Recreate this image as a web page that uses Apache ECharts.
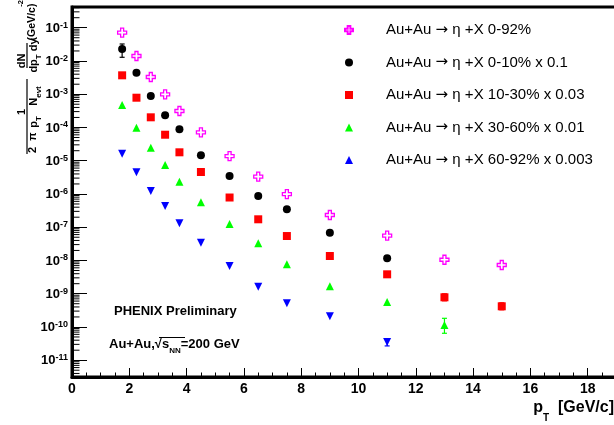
<!DOCTYPE html>
<html>
<head>
<meta charset="utf-8">
<script src="https://cdn.jsdelivr.net/npm/echarts@6/dist/echarts.min.js"></script>
<style>html,body{margin:0;padding:0;background:#fff}#c{width:614px;height:425px}</style>
</head>
<body>
<div id="c"></div>
<script>
// ---- data ----
const ptBins = [1.75, 2.25, 2.75, 3.25, 3.75, 4.5, 5.5, 6.5, 7.5, 9, 11, 13, 15];
const seriesNames = [
  'Au+Au \u2192 \u03b7 +X 0-92%',
  'Au+Au \u2192 \u03b7 +X 0-10% x 0.1',
  'Au+Au \u2192 \u03b7 +X 10-30% x 0.03',
  'Au+Au \u2192 \u03b7 +X 30-60% x 0.01',
  'Au+Au \u2192 \u03b7 +X 60-92% x 0.003'
];
const yield0092 = [7.08e-2, 1.41e-2, 3.29e-3, 9.93e-4, 3.13e-4, 7.14e-5, 1.38e-5, 3.30e-6, 9.95e-7, 2.33e-7, 5.55e-8, 1.05e-8, 7.3e-9];
const yield0010 = [2.29e-2, 4.43e-3, 8.83e-4, 2.32e-4, 8.79e-5, 1.45e-5, 3.47e-6, 8.67e-7, 3.45e-7, 6.84e-8, 1.16e-8];
const yield1030 = [3.70e-3, 7.85e-4, 2.02e-4, 6.05e-5, 1.79e-5, 4.57e-6, 7.82e-7, 1.73e-7, 5.43e-8, 1.36e-8, 3.83e-9, 7.80e-10, 4.18e-10];
const yield3060 = [4.73e-4, 9.82e-5, 2.46e-5, 7.43e-6, 2.33e-6, 5.61e-7, 1.25e-7, 3.28e-8, 7.66e-9, 1.67e-9, 5.62e-10, 1.15e-10];
const yield6092 = [1.63e-5, 4.48e-6, 1.23e-6, 4.34e-7, 1.31e-7, 3.42e-8, 6.81e-9, 1.63e-9, 5.14e-10, 2.09e-10, 3.52e-11];
// visible error bars: [pT, low, high]
const err0010 = [[1.75, 1.29e-2, 3.24e-2]];
const err1030 = [[13, 6.12e-10, 9.93e-10], [15, 3.28e-10, 5.32e-10]];
const err3060 = [[13, 6.46e-11, 1.82e-10]];
const err6092 = [[11, 2.69e-11, 4.36e-11]];
const xTicks = [0, 2, 4, 6, 8, 10, 12, 14, 16, 18, 20];
const yRangeLog = [-11.505, -0.377];
const minorMult = [2, 3, 4, 5, 6, 7, 8, 9];

// ---- build ----
const FONT = 'Liberation Sans, Arial, Helvetica, sans-serif';
const colors = ['#ff00ff', '#000000', '#ff0000', '#00ff00', '#0000ff'];
const L = Math.log10;
function pts(vals) { return vals.map((v, i) => [ptBins[i], L(v)]); }
const crossPath = 'path://M3,0L6,0L6,3L9,3L9,6L6,6L6,9L3,9L3,6L0,6L0,3L3,3Z';

const minorData = [];
for (let d = -13; d <= 0; d++) {
  minorMult.forEach(k => {
    const v = d + L(k);
    if (v > yRangeLog[0] && v < yRangeLog[1]) minorData.push([0, v]);
  });
}

function errSeries(data, color) {
  return {
    type: 'custom', silent: true, z: 1,
    data: data.map(e => [e[0], L(e[1]), L(e[2])]),
    renderItem: function (params, api) {
      const a = api.coord([api.value(0), api.value(2)]);
      const b = api.coord([api.value(0), api.value(1)]);
      const st = { stroke: color, lineWidth: 1.2 };
      return { type: 'group', children: [
        { type: 'line', shape: { x1: a[0], y1: a[1], x2: b[0], y2: b[1] }, style: st },
        { type: 'line', shape: { x1: a[0] - 2.5, y1: a[1], x2: a[0] + 2.5, y2: a[1] }, style: st },
        { type: 'line', shape: { x1: b[0] - 2.5, y1: b[1], x2: b[0] + 2.5, y2: b[1] }, style: st }
      ]};
    }
  };
}

const subRich = {
  m: { font: 'bold 11px ' + FONT, fill: '#000', lineHeight: 12 },
  s: { font: 'bold 8px ' + FONT, fill: '#000', verticalAlign: 'bottom', lineHeight: 8, padding: [0, 0, -3, 0] }
};
function rotText(x, y, text, size) {
  const st = { text: text, align: 'center', verticalAlign: 'middle', fill: '#000' };
  if (text.indexOf('{') >= 0) st.rich = subRich; else st.font = 'bold ' + (size || 11) + 'px ' + FONT;
  return { type: 'text', x: x, y: y, rotation: Math.PI / 2, style: st };
}

const option = {
  animation: false,
  backgroundColor: '#ffffff',
  grid: { left: 72, top: 7, right: -31, bottom: 48, outerBoundsMode: 'none', containLabel: false,
    show: true, borderColor: '#000', borderWidth: 3, backgroundColor: 'transparent' },
  legend: {
    orient: 'vertical', left: 344, top: 22.5, padding: 0,
    itemWidth: 8, itemHeight: 8, itemGap: 17.5,
    data: seriesNames,
    formatter: n => n.replace('\u2192', '{r|\u2192}'),
    textStyle: { fontFamily: FONT, fontSize: 15, color: '#000', lineHeight: 15, padding: [0, 0, 0, 28],
      rich: { r: { fontFamily: 'DejaVu Sans', fontSize: 15, color: '#000', lineHeight: 15 } } }
  },
  xAxis: {
    type: 'value', min: xTicks[0], max: xTicks[xTicks.length - 1], interval: 2,
    name: '{m|p}{s|T}{m|  [GeV/c]}', nameLocation: 'end', nameGap: -31,
    nameTextStyle: { align: 'right', verticalAlign: 'top', padding: [22, 0, 0, 0],
      rich: { m: { fontFamily: FONT, fontSize: 16, fontWeight: 'bold', color: '#000', lineHeight: 18 },
              s: { fontFamily: FONT, fontSize: 10, fontWeight: 'bold', color: '#000', verticalAlign: 'bottom', lineHeight: 12, padding: [0, 0, -6, 0] } } },
    axisLine: { onZero: false, lineStyle: { color: '#000', width: 3 } },
    axisTick: { inside: true, length: 9, lineStyle: { color: '#000', width: 1 } },
    minorTick: { show: true, splitNumber: 4, length: 4.5, lineStyle: { color: '#000', width: 1 } },
    splitLine: { show: false },
    axisLabel: { margin: 5, fontFamily: FONT, fontSize: 14, fontWeight: 'bold', color: '#000',
      formatter: v => (Math.abs(v - Math.round(v)) < 1e-6 ? String(Math.round(v)) : '') }
  },
  yAxis: {
    type: 'value', min: yRangeLog[0], max: yRangeLog[1], minInterval: 1, maxInterval: 1,
    axisLine: { onZero: false, lineStyle: { color: '#000', width: 3 } },
    axisTick: { inside: true, length: 15, lineStyle: { color: '#000', width: 1 } },
    splitLine: { show: false },
    axisLabel: { margin: 4, lineHeight: 16,
      formatter: v => (Math.abs(v - Math.round(v)) < 1e-6 ? '{b|10}{s|' + Math.round(v) + '}' : ''),
      rich: { b: { fontFamily: FONT, fontSize: 13, fontWeight: 'bold', color: '#000', verticalAlign: 'bottom', lineHeight: 14 },
              s: { fontFamily: FONT, fontSize: 9, fontWeight: 'bold', color: '#000', verticalAlign: 'top', lineHeight: 10 } } }
  },
  graphic: [
    // y-axis title: 1/(2 pi pT Nevt) dN/(dpT dy) (GeV/c)^-2, written bottom-to-top
    rotText(21.5, 112, '1', 11),
    { type: 'line', shape: { x1: 27, y1: 79, x2: 27, y2: 154 }, style: { stroke: '#000', lineWidth: 1.2 } },
    rotText(33, 150, '2', 11),
    rotText(33, 136.5, '\u03c0', 11),
    rotText(33.5, 122, '{m|p}{s|T}'),
    rotText(33.5, 96, '{m|N}{s|evt}'),
    rotText(22, 61, 'dN', 11),
    { type: 'line', shape: { x1: 27, y1: 43, x2: 27, y2: 68 }, style: { stroke: '#000', lineWidth: 1.2 } },
    rotText(33.5, 55.5, '{m|dp}{s|T}{m| dy}'),
    rotText(32.5, 22, '(GeV/c)', 10.5),
    rotText(21, 3.5, '-2', 7.5),
    { type: 'text', x: 114, y: 311, style: { text: 'PHENIX Preliminary', font: 'bold 13px ' + FONT, fill: '#000', align: 'left', verticalAlign: 'middle' } },
    { type: 'text', x: 109, y: 344, style: { text: '{m|Au+Au,\u221a}{m|s}{s|NN}{m|=200 GeV}', align: 'left', verticalAlign: 'middle',
        rich: { m: { font: 'bold 13px ' + FONT, fill: '#000', lineHeight: 15 }, s: { font: 'bold 8px ' + FONT, fill: '#000', verticalAlign: 'bottom', lineHeight: 9, padding: [0, 0, -3, 0] } } } },
    { type: 'line', shape: { x1: 159, y1: 337.5, x2: 185, y2: 337.5 }, style: { stroke: '#000', lineWidth: 1 } }
  ],
  series: [
    { type: 'custom', silent: true, z: 5, data: minorData, clip: false,
      renderItem: function (params, api) {
        const p = api.coord([api.value(0), api.value(1)]);
        return { type: 'line', shape: { x1: p[0], y1: p[1], x2: p[0] + 7.5, y2: p[1] }, style: { stroke: '#000', lineWidth: 1 } };
      } },
    errSeries(err0010, colors[1]),
    errSeries(err1030, colors[2]),
    errSeries(err3060, colors[3]),
    errSeries(err6092, colors[4]),
    { name: seriesNames[0], type: 'scatter', z: 3, data: pts(yield0092), symbol: crossPath, symbolSize: 9,
      itemStyle: { color: '#ffffff', borderColor: colors[0], borderWidth: 1.3, opacity: 1 } },
    { name: seriesNames[1], type: 'scatter', z: 3, data: pts(yield0010), symbol: 'circle', symbolSize: 8,
      itemStyle: { color: colors[1], opacity: 1 } },
    { name: seriesNames[2], type: 'scatter', z: 3, data: pts(yield1030), symbol: 'rect', symbolSize: 8,
      itemStyle: { color: colors[2], opacity: 1 } },
    { name: seriesNames[3], type: 'scatter', z: 3, data: pts(yield3060), symbol: 'triangle', symbolSize: 8,
      itemStyle: { color: colors[3], opacity: 1 } },
    { name: seriesNames[4], type: 'scatter', z: 3, data: pts(yield6092), symbol: 'triangle', symbolRotate: 180, symbolSize: 8,
      itemStyle: { color: colors[4], opacity: 1 } }
  ]
};
const chart = echarts.init(document.getElementById('c'), null, { renderer: 'canvas' });
chart.setOption(option);
</script>
</body>
</html>
